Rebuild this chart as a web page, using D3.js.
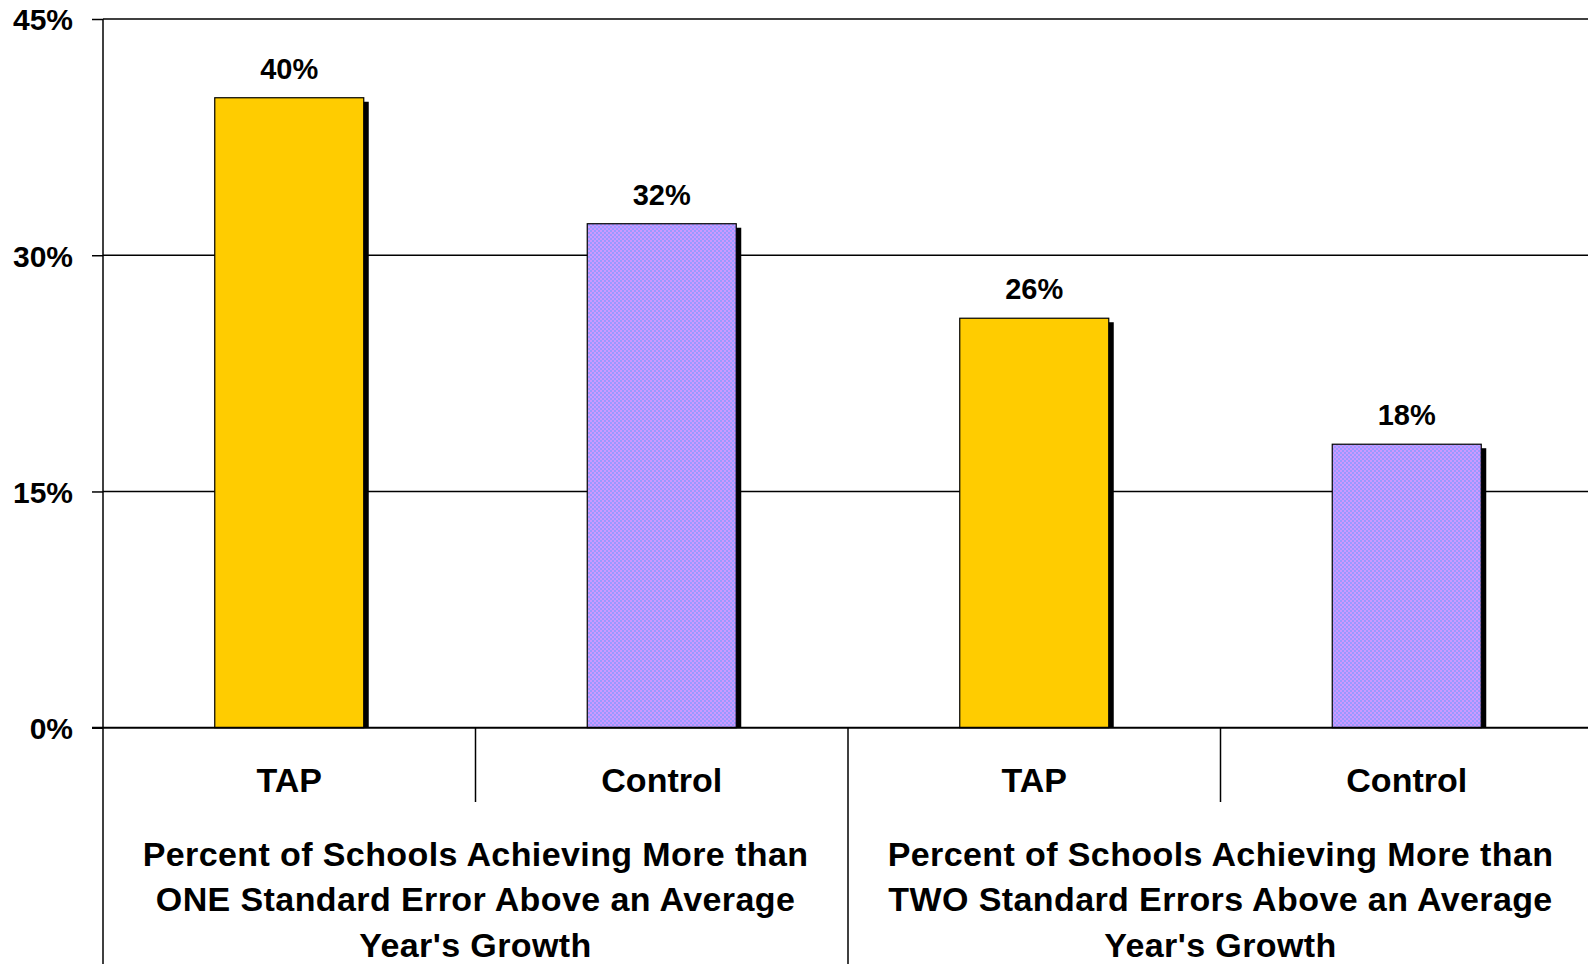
<!DOCTYPE html>
<html>
<head>
<meta charset="utf-8">
<script src="https://cdn.jsdelivr.net/npm/d3@7"></script>
<style>
  html, body { margin: 0; padding: 0; background: #fff; }
  svg { display: block; font-family: "Liberation Sans", Arial, sans-serif; font-weight: bold; }
</style>
</head>
<body>
<script>
// chart data
var categories = ["TAP", "Control", "TAP", "Control"];
var values = [40, 32, 26, 18];
var series = ["tap", "control", "tap", "control"];
var groups = [
  ["Percent of Schools Achieving More than", "ONE Standard Error Above an Average", "Year's Growth"],
  ["Percent of Schools Achieving More than", "TWO Standard Errors Above an Average", "Year's Growth"]
];
var yTicks = [0, 15, 30, 45];

var width = 1588, height = 964;
var plotLeft = 103, plotRight = 1593, plotTop = 19, plotBottom = 727.7;

var svg = d3.select("body").append("svg")
    .attr("width", width)
    .attr("height", height);

// checker fill for the control bars
var defs = svg.append("defs");
var pat = defs.append("pattern")
    .attr("id", "checker")
    .attr("width", 4).attr("height", 4)
    .attr("patternUnits", "userSpaceOnUse");
pat.append("rect").attr("width", 4).attr("height", 4).attr("fill", "#cc99ff");
pat.append("rect").attr("width", 2).attr("height", 2).attr("fill", "#9999ff");
pat.append("rect").attr("x", 2).attr("y", 2).attr("width", 2).attr("height", 2).attr("fill", "#9999ff");

var idx = d3.range(values.length);

var x = d3.scaleBand().domain(idx).range([plotLeft, plotRight]).paddingInner(0.6).paddingOuter(0.3);
var slot = d3.scaleBand().domain(idx).range([plotLeft, plotRight]).padding(0);
var y = d3.scaleLinear().domain([0, 45]).range([plotBottom, plotTop]);

// gridlines
svg.append("g").selectAll("line")
    .data(yTicks.filter(function(d){ return d > 0; }))
    .enter().append("line")
    .attr("x1", plotLeft).attr("x2", width)
    .attr("y1", function(d){ return y(d); })
    .attr("y2", function(d){ return y(d); })
    .attr("stroke", "#000").attr("stroke-width", 1.5);

// y axis
var yAxis = d3.axisLeft(y).tickValues(yTicks)
    .tickFormat(function(d){ return d + "%"; })
    .tickSize(11).tickPadding(19);
var ya = svg.append("g").attr("transform", "translate(" + plotLeft + ",0)").call(yAxis);
ya.select(".domain").remove();
ya.selectAll(".tick line").attr("stroke", "#000").attr("stroke-width", 1.5);
ya.selectAll(".tick text")
    .attr("font-size", 30).attr("font-family", "Liberation Sans, Arial, sans-serif")
    .attr("font-weight", "bold").attr("fill", "#000").attr("dy", "0.36em");

// bars: shadow then bar
var bars = svg.append("g").selectAll("g")
    .data(idx).enter().append("g");

bars.append("rect")
    .attr("x", function(d){ return x(d) + 5; })
    .attr("y", function(d){ return y(values[d]) + 4; })
    .attr("width", x.bandwidth())
    .attr("height", function(d){ return plotBottom - y(values[d]) - 4; })
    .attr("fill", "#000");

bars.append("rect")
    .attr("x", function(d){ return x(d); })
    .attr("y", function(d){ return y(values[d]); })
    .attr("width", x.bandwidth())
    .attr("height", function(d){ return plotBottom - y(values[d]); })
    .attr("fill", function(d){ return series[d] == "tap" ? "#ffcc00" : "url(#checker)"; })
    .attr("stroke", "#000").attr("stroke-width", 1.2);

bars.append("text")
    .attr("x", function(d){ return x(d) + x.bandwidth() / 2; })
    .attr("y", function(d){ return y(values[d]) - 19; })
    .attr("text-anchor", "middle")
    .attr("font-size", 29)
    .text(function(d){ return values[d] + "%"; });

// y axis line and x axis line
svg.append("line")
    .attr("x1", plotLeft).attr("x2", plotLeft).attr("y1", plotTop).attr("y2", height)
    .attr("stroke", "#000").attr("stroke-width", 1.5);
svg.append("line")
    .attr("x1", plotLeft - 11).attr("x2", width).attr("y1", plotBottom).attr("y2", plotBottom)
    .attr("stroke", "#000").attr("stroke-width", 2);

// category dividers
svg.append("g").selectAll("line")
    .data(idx.slice(1))
    .enter().append("line")
    .attr("x1", function(d){ return slot(d); })
    .attr("x2", function(d){ return slot(d); })
    .attr("y1", plotBottom)
    .attr("y2", function(d){ return d % 2 == 0 ? height : 802; })
    .attr("stroke", "#000").attr("stroke-width", 1.5);

// category labels
svg.append("g").selectAll("text")
    .data(idx).enter().append("text")
    .attr("x", function(d){ return slot(d) + slot.bandwidth() / 2; })
    .attr("y", 792)
    .attr("text-anchor", "middle")
    .attr("font-size", 34)
    .text(function(d){ return categories[d]; });

// group labels
var gl = svg.append("g").selectAll("text")
    .data(groups).enter().append("text")
    .attr("x", function(d, i){ return slot(i * 2) + slot.bandwidth(); })
    .attr("y", 865.7)
    .attr("text-anchor", "middle")
    .attr("font-size", 34)
    .attr("letter-spacing", 0.4);
gl.selectAll("tspan")
    .data(function(d){ return d; })
    .enter().append("tspan")
    .attr("x", function(){ return d3.select(this.parentNode).attr("x"); })
    .attr("dy", function(d, i){ return i == 0 ? 0 : 45.5; })
    .text(function(d){ return d; });
</script>
</body>
</html>
